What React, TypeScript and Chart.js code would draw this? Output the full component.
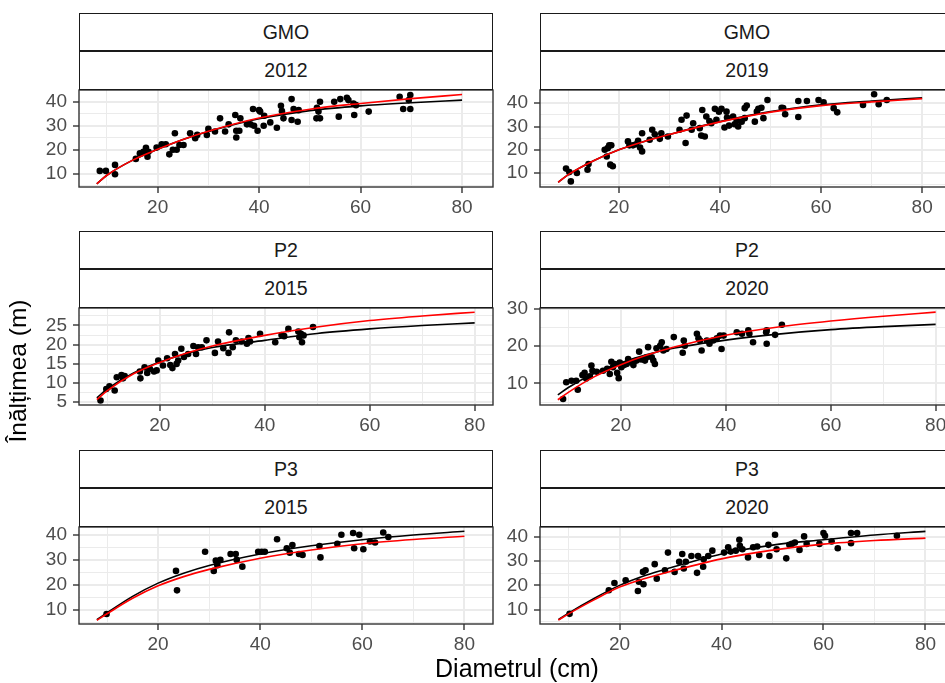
import React, { useEffect, useRef } from "react";
import { Chart, registerables } from "chart.js";
Chart.register(...registerables);

const FONT = "'Liberation Sans', Arial, Helvetica, sans-serif";

// ---------- data ----------
const curveD = [8, 10, 15, 20, 25, 30, 40, 50, 60, 70, 80];
const xMajor = [20, 40, 60, 80];
const xMinor = [10, 30, 50, 70];

// GMO 2012
const gmo2012D = [8.6, 9.8, 11.6, 11.6, 15.7, 16.5, 17.2, 17.7, 18.0, 18.2, 19.8, 20.8, 21.6, 22.3, 23.0, 23.4, 23.75, 24.3, 25.1, 26.4, 27.4, 27.8, 29.7, 30.0, 31.3, 32.3, 33.3, 34.0, 35.3, 35.5, 35.5, 36.1, 36.3, 37.6, 38.3, 38.8, 39.0, 39.7, 40.0, 40.2, 40.9, 41.0, 42.2, 43.5, 44.3, 44.5, 44.8, 46.4, 46.4, 46.8, 47.6, 47.8, 51.3, 51.4, 51.7, 52.0, 52.0, 54.8, 55.7, 56.0, 57.3, 57.6, 58.6, 58.75, 59.1, 61.6, 67.7, 68.4, 69.5, 69.8, 69.8];
const gmo2012H = [11.2, 11.2, 13.7, 9.8, 16.2, 18.5, 19.2, 20.8, 17.1, 19.2, 20.9, 22.3, 22.3, 18.1, 20.0, 26.9, 20.0, 22.0, 22.0, 26.9, 24.8, 26.2, 26.2, 28.7, 27.6, 33.1, 27.6, 30.6, 34.5, 27.9, 25.1, 27.9, 33.1, 30.6, 30.6, 37.0, 30.0, 27.9, 36.5, 35.9, 30.0, 34.2, 31.4, 29.2, 38.3, 36.1, 33.1, 41.1, 32.4, 37.0, 31.7, 36.5, 33.1, 37.5, 35.9, 40.0, 33.1, 40.0, 33.8, 41.1, 41.7, 40.7, 39.3, 34.5, 38.6, 35.9, 42.1, 37.0, 40.7, 42.8, 37.0];
const gmo2012Black = [5.8, 9.4, 15.6, 20.2, 24.3, 27.6, 32.9, 36.3, 38.3, 39.6, 40.7];
const gmo2012Red = [5.8, 9.4, 15.6, 20.2, 24.3, 27.7, 33.2, 36.9, 39.3, 41.3, 43.0];

// GMO 2019
const gmo2019D = [9.55, 10.2, 10.5, 11.7, 13.8, 14.0, 17.2, 17.6, 17.8, 18.1, 18.5, 18.3, 18.8, 21.8, 22.1, 22.8, 23.4, 23.8, 24.2, 24.6, 24.6, 26.1, 26.6, 27.1, 28.1, 28.4, 29.7, 32.0, 32.4, 33.2, 33.4, 34.4, 34.7, 36.0, 36.3, 36.5, 37.0, 37.3, 37.9, 38.3, 39.0, 39.3, 39.8, 40.3, 40.9, 41.3, 41.4, 41.8, 42.6, 42.9, 43.3, 43.6, 44.3, 44.9, 45.3, 44.9, 47.3, 47.6, 46.9, 48.2, 48.6, 49.4, 52.2, 52.5, 52.9, 55.5, 55.5, 57.2, 59.5, 60.5, 62.5, 63.2, 68.3, 70.5, 71.4, 73.0];
const gmo2019H = [11.9, 10.4, 6.4, 10.0, 11.4, 13.9, 20.0, 17.1, 20.7, 21.9, 21.9, 13.6, 12.9, 23.6, 21.9, 21.9, 22.4, 23.9, 21.0, 19.3, 27.1, 24.3, 28.6, 26.7, 24.7, 27.1, 25.7, 28.6, 32.9, 22.9, 34.7, 28.6, 31.4, 29.3, 26.1, 37.1, 25.7, 34.3, 32.4, 31.4, 37.6, 32.9, 36.4, 37.6, 29.6, 36.4, 33.9, 30.4, 34.3, 31.0, 32.4, 30.0, 32.1, 37.9, 39.0, 33.6, 36.4, 37.6, 32.1, 38.1, 33.6, 41.4, 38.1, 37.9, 35.3, 41.0, 34.1, 41.0, 41.4, 40.4, 37.9, 36.1, 39.3, 43.9, 39.6, 41.4];
const gmo2019Black = [6.0, 9.3, 15.3, 20.0, 23.6, 26.6, 32.1, 36.4, 39.3, 41.0, 42.4];
const gmo2019Red = [6.0, 9.3, 15.3, 20.0, 23.6, 26.6, 32.0, 36.2, 39.0, 40.6, 42.0];

// P2 2015
const p22015D = [8.7, 9.8, 10.4, 11.4, 11.8, 12.7, 13.0, 13.3, 16.2, 16.3, 17.1, 17.6, 18.1, 18.9, 19.4, 19.7, 20.6, 21.4, 22.0, 22.4, 22.9, 23.2, 23.5, 24.1, 24.6, 25.4, 26.4, 26.9, 27.3, 28.0, 28.9, 30.5, 31.1, 32.1, 33.1, 33.2, 33.9, 34.5, 35.6, 36.6, 36.9, 37.2, 39.1, 42.0, 43.2, 43.7, 44.5, 46.4, 46.6, 46.9, 47.1, 47.4, 49.2];
const p22015H = [5.3, 8.3, 9.0, 7.9, 11.4, 12.0, 11.1, 11.7, 12.9, 11.1, 14.0, 12.5, 13.6, 12.9, 13.2, 15.8, 14.5, 16.4, 14.6, 13.8, 17.5, 14.9, 15.8, 18.9, 16.7, 17.5, 19.6, 17.5, 19.3, 19.3, 21.1, 17.8, 20.8, 19.0, 17.8, 23.2, 19.3, 21.1, 20.8, 20.2, 21.7, 20.8, 22.8, 20.6, 22.5, 22.2, 24.1, 23.4, 21.9, 22.8, 20.6, 22.4, 24.6];
const p22015Black = [6.0, 8.3, 12.5, 15.4, 17.6, 19.2, 21.1, 22.9, 24.1, 25.0, 25.7];
const p22015Red = [5.5, 7.9, 12.3, 15.3, 17.7, 19.6, 22.4, 24.6, 26.3, 27.5, 28.5];

// P2 2020
const p22020D = [9.0, 9.6, 10.6, 11.5, 11.8, 12.7, 13.1, 13.4, 14.1, 14.4, 14.6, 15.4, 16.6, 17.4, 17.9, 18.2, 18.5, 18.9, 19.3, 19.6, 19.8, 20.1, 20.6, 21.1, 21.4, 22.0, 22.4, 23.0, 23.5, 23.9, 24.6, 24.9, 25.2, 25.9, 26.2, 26.5, 26.8, 27.5, 27.8, 28.1, 28.7, 30.1, 31.8, 32.0, 32.2, 34.5, 34.8, 35.1, 35.4, 36.4, 36.9, 37.6, 38.3, 39.2, 38.9, 39.6, 42.1, 43.1, 44.3, 44.5, 45.2, 47.7, 47.8, 47.8, 49.4, 50.7];
const p22020H = [5.8, 10.3, 10.7, 10.7, 8.3, 12.2, 12.8, 11.3, 11.9, 14.8, 13.4, 13.1, 13.4, 13.9, 12.5, 15.8, 14.3, 15.2, 12.8, 11.4, 15.6, 14.3, 14.9, 15.2, 16.5, 15.6, 14.9, 16.1, 18.5, 16.4, 16.1, 17.0, 19.7, 17.0, 16.1, 15.2, 19.4, 20.1, 21.0, 18.8, 19.2, 22.4, 18.2, 21.5, 20.1, 23.3, 22.1, 21.5, 18.8, 21.5, 20.6, 21.5, 22.1, 19.2, 22.8, 22.8, 23.7, 23.3, 24.2, 23.3, 21.0, 23.7, 24.2, 20.6, 23.0, 25.7];
const p22020Black = [6.9, 8.9, 12.7, 15.5, 17.7, 19.4, 21.6, 23.2, 24.4, 25.2, 25.8];
const p22020Red = [5.6, 7.6, 11.8, 15.0, 17.6, 19.7, 22.9, 25.1, 26.7, 28.0, 29.1];

// P3 2015
const p32015D = [9.9, 23.5, 23.7, 29.2, 30.9, 31.3, 31.6, 32.2, 34.2, 35.2, 35.4, 36.5, 39.6, 40.3, 40.9, 43.3, 45.2, 45.8, 46.3, 47.6, 48.3, 51.6, 51.8, 55.1, 55.9, 58.2, 58.4, 59.4, 60.2, 61.5, 62.5, 64.1, 65.1];
const p32015H = [8.2, 25.5, 17.7, 33.2, 25.5, 29.6, 27.8, 29.9, 32.3, 32.3, 29.9, 27.2, 33.2, 33.2, 33.2, 38.2, 34.6, 32.8, 35.9, 32.3, 31.9, 35.5, 30.9, 36.4, 40.0, 40.7, 34.6, 40.0, 34.2, 37.3, 36.9, 40.9, 39.1];
const p32015Black = [5.9, 8.7, 15.3, 20.6, 24.6, 27.7, 32.3, 35.6, 38.0, 39.9, 41.4];
const p32015Red = [5.7, 8.3, 14.5, 19.5, 23.2, 26.1, 30.6, 33.9, 36.4, 38.1, 39.4];

// P3 2020
const p32020D = [10.2, 17.9, 19.0, 21.2, 23.6, 23.8, 24.7, 24.6, 25.1, 26.9, 27.3, 28.9, 29.5, 30.8, 31.7, 32.3, 32.6, 33.0, 34.1, 35.2, 35.4, 36.4, 36.5, 37.4, 38.2, 40.5, 41.3, 41.8, 42.8, 43.5, 43.6, 44.1, 45.2, 46.2, 47.0, 47.4, 49.2, 49.4, 50.5, 50.8, 52.7, 53.3, 53.8, 54.4, 55.3, 56.2, 56.7, 59.2, 60.0, 60.3, 61.6, 62.8, 65.4, 65.4, 66.6, 74.4];
const p32020H = [8.2, 18.0, 21.0, 22.1, 17.7, 21.5, 20.5, 25.6, 26.3, 28.8, 22.8, 26.3, 33.6, 25.6, 29.8, 33.0, 27.0, 29.8, 32.2, 25.2, 32.2, 27.7, 30.8, 32.2, 34.4, 33.6, 35.8, 34.0, 34.4, 38.9, 36.4, 35.0, 31.6, 35.8, 36.1, 32.6, 36.8, 32.2, 41.0, 35.0, 31.2, 36.8, 37.2, 37.8, 34.7, 40.3, 37.2, 37.2, 41.7, 40.6, 38.2, 35.4, 37.5, 41.7, 41.7, 40.6];
const p32020Black = [5.8, 8.5, 14.6, 20.0, 24.1, 27.3, 33.0, 36.7, 38.9, 40.9, 42.4];
const p32020Red = [5.6, 8.2, 14.0, 19.3, 22.9, 25.8, 31.0, 34.6, 37.1, 38.6, 39.6];

const yMajor40 = [10, 20, 30, 40];
const yMinor40 = [5, 15, 25, 35];
const yMajor25 = [5, 10, 15, 20, 25];
const yMinor25 = [7.5, 12.5, 17.5, 22.5, 27.5];
const yMajor30 = [10, 20, 30];
const yMinor30 = [5, 15, 25];

const siteLabels = ["GMO", "GMO", "P2", "P2", "P3", "P3"];
const yearLabels = ["2012", "2019", "2015", "2020", "2015", "2020"];
const xTitle = "Diametrul (cm)";
const yTitle = "Înălțimea (m)";

// ---------- layout ----------
const PLOT_W = 414;
const PLOT_H = 97;
const YW = 79;
const XH = 40;
const PAD_T = 24;
const PAD_R = 16;
const COL_LEFT = [79, 540];
const ROW_TOP = [13, 231, 450];
const STRIP1 = 38;
const STRIP2 = 39;

const panels = [
  { d: gmo2012D, h: gmo2012H, black: gmo2012Black, red: gmo2012Red, xMin: 4.5, xMax: 86.1, yMin: 4.5, yMax: 44.9, yMajor: yMajor40, yMinor: yMinor40, row: 0, col: 0 },
  { d: gmo2019D, h: gmo2019H, black: gmo2019Black, red: gmo2019Red, xMin: 4.4, xMax: 86.3, yMin: 4.0, yMax: 45.7, yMajor: yMajor40, yMinor: yMinor40, row: 0, col: 1 },
  { d: p22015D, h: p22015H, black: p22015Black, red: p22015Red, xMin: 4.6, xMax: 83.5, yMin: 4.1, yMax: 29.6, yMajor: yMajor25, yMinor: yMinor25, row: 1, col: 0 },
  { d: p22020D, h: p22020H, black: p22020Black, red: p22020Red, xMin: 4.6, xMax: 83.5, yMin: 4.2, yMax: 30.2, yMajor: yMajor30, yMinor: yMinor30, row: 1, col: 1 },
  { d: p32015D, h: p32015H, black: p32015Black, red: p32015Red, xMin: 4.5, xMax: 85.6, yMin: 4.2, yMax: 43.1, yMajor: yMajor40, yMinor: yMinor40, row: 2, col: 0 },
  { d: p32020D, h: p32020H, black: p32020Black, red: p32020Red, xMin: 4.4, xMax: 85.6, yMin: 4.0, yMax: 44.2, yMajor: yMajor40, yMinor: yMinor40, row: 2, col: 1 },
];

const borderPlugin = {
  id: "panelBorder",
  afterDraw(chart: any) {
    const { ctx, chartArea: a } = chart;
    ctx.save();
    ctx.strokeStyle = "#333333";
    ctx.lineWidth = 1.4;
    ctx.strokeRect(a.left, a.top, a.right - a.left, a.bottom - a.top);
    ctx.restore();
  },
};

function Panel({ p }: { p: any }) {
  const ref = useRef<HTMLCanvasElement>(null);
  useEffect(() => {
    const xTicks = [...xMinor, ...xMajor].sort((a, b) => a - b);
    const yTicks = [...p.yMinor, ...p.yMajor].sort((a: number, b: number) => a - b);
    const isXMajor = (v: number) => xMajor.includes(v);
    const isYMajor = (v: number) => p.yMajor.includes(v);
    const chart = new Chart(ref.current as HTMLCanvasElement, {
      type: "scatter",
      data: {
        datasets: [
          {
            data: curveD.map((x, i) => ({ x, y: p.red[i] })),
            showLine: true,
            borderColor: "#FF0000",
            borderWidth: 1.6,
            pointRadius: 0,
            cubicInterpolationMode: "monotone",
            order: 0,
          },
          {
            data: curveD.map((x, i) => ({ x, y: p.black[i] })),
            showLine: true,
            borderColor: "#000000",
            borderWidth: 1.6,
            pointRadius: 0,
            cubicInterpolationMode: "monotone",
            order: 1,
          },
          {
            data: p.d.map((x: number, i: number) => ({ x, y: p.h[i] })),
            showLine: false,
            backgroundColor: "#000000",
            borderColor: "#000000",
            borderWidth: 0,
            pointRadius: 3.3,
            order: 2,
          },
        ],
      } as any,
      options: {
        animation: false,
        responsive: false,
        maintainAspectRatio: false,
        devicePixelRatio: 1,
        events: [],
        layout: { padding: { top: PAD_T, right: PAD_R, left: 0, bottom: 0 } },
        plugins: { legend: { display: false }, tooltip: { enabled: false } },
        scales: {
          x: {
            type: "linear",
            min: p.xMin,
            max: p.xMax,
            afterFit: (s: any) => { s.height = XH; },
            afterBuildTicks: (s: any) => { s.ticks = xTicks.map((v) => ({ value: v })); },
            ticks: {
              autoSkip: false,
              maxRotation: 0,
              padding: 3,
              color: "#4D4D4D",
              font: { family: FONT, size: 19 },
              callback: (v: any) => (isXMajor(Number(v)) ? String(v) : ""),
            },
            grid: {
              color: "#EBEBEB",
              lineWidth: (c: any) => (isXMajor(c.tick.value) ? 2 : 1),
              tickColor: (c: any) => (isXMajor(c.tick.value) ? "#333333" : "rgba(0,0,0,0)"),
              tickLength: 6,
              tickWidth: 1.4,
            },
            border: { display: false },
          },
          y: {
            type: "linear",
            min: p.yMin,
            max: p.yMax,
            afterFit: (s: any) => { s.width = YW; },
            afterBuildTicks: (s: any) => { s.ticks = yTicks.map((v: number) => ({ value: v })); },
            ticks: {
              autoSkip: false,
              padding: 6,
              color: "#4D4D4D",
              font: { family: FONT, size: 19 },
              callback: (v: any) => (isYMajor(Number(v)) ? String(v) : ""),
            },
            grid: {
              color: "#EBEBEB",
              lineWidth: (c: any) => (isYMajor(c.tick.value) ? 2 : 1),
              tickColor: (c: any) => (isYMajor(c.tick.value) ? "#333333" : "rgba(0,0,0,0)"),
              tickLength: 6,
              tickWidth: 1.4,
            },
            border: { display: false },
          },
        },
      } as any,
      plugins: [borderPlugin],
    });
    return () => chart.destroy();
  }, [p]);

  const plotTop = ROW_TOP[p.row] + STRIP1 + STRIP2;
  const left = COL_LEFT[p.col] - YW;
  const w = YW + PLOT_W + PAD_R;
  const hgt = PAD_T + PLOT_H + XH;
  return (
    <canvas
      ref={ref}
      width={w}
      height={hgt}
      style={{ position: "absolute", left, top: plotTop - PAD_T, width: w, height: hgt }}
    />
  );
}

function Strip({ left, top, height, text }: { left: number; top: number; height: number; text: string }) {
  return (
    <div
      style={{
        position: "absolute",
        left,
        top,
        width: PLOT_W,
        height,
        boxSizing: "border-box",
        border: "1px solid #1A1A1A",
        background: "#FFFFFF",
        display: "flex",
        alignItems: "center",
        justifyContent: "center",
        fontFamily: FONT,
        fontSize: 19.5,
        color: "#1A1A1A",
      }}
    >
      {text}
    </div>
  );
}

export default function App() {
  return (
    <div
      style={{
        position: "fixed",
        left: 0,
        top: 0,
        width: 945,
        height: 683,
        overflow: "hidden",
        background: "#FFFFFF",
      }}
    >
      {panels.map((p, i) => (
        <React.Fragment key={i}>
          <Panel p={p} />
          <Strip left={COL_LEFT[p.col]} top={ROW_TOP[p.row]} height={STRIP1} text={siteLabels[i]} />
          <Strip left={COL_LEFT[p.col]} top={ROW_TOP[p.row] + STRIP1} height={STRIP2} text={yearLabels[i]} />
        </React.Fragment>
      ))}
      <div
        style={{
          position: "absolute",
          left: 317,
          width: 400,
          top: 653,
          textAlign: "center",
          fontFamily: FONT,
          fontSize: 25,
          lineHeight: "30px",
          color: "#000000",
        }}
      >
        {xTitle}
      </div>
      <div
        style={{
          position: "absolute",
          left: 18 - 100,
          top: 371 - 15,
          width: 200,
          height: 30,
          lineHeight: "30px",
          textAlign: "center",
          transform: "rotate(-90deg)",
          fontFamily: FONT,
          fontSize: 24.5,
          color: "#000000",
          whiteSpace: "nowrap",
        }}
      >
        {yTitle}
      </div>
    </div>
  );
}
